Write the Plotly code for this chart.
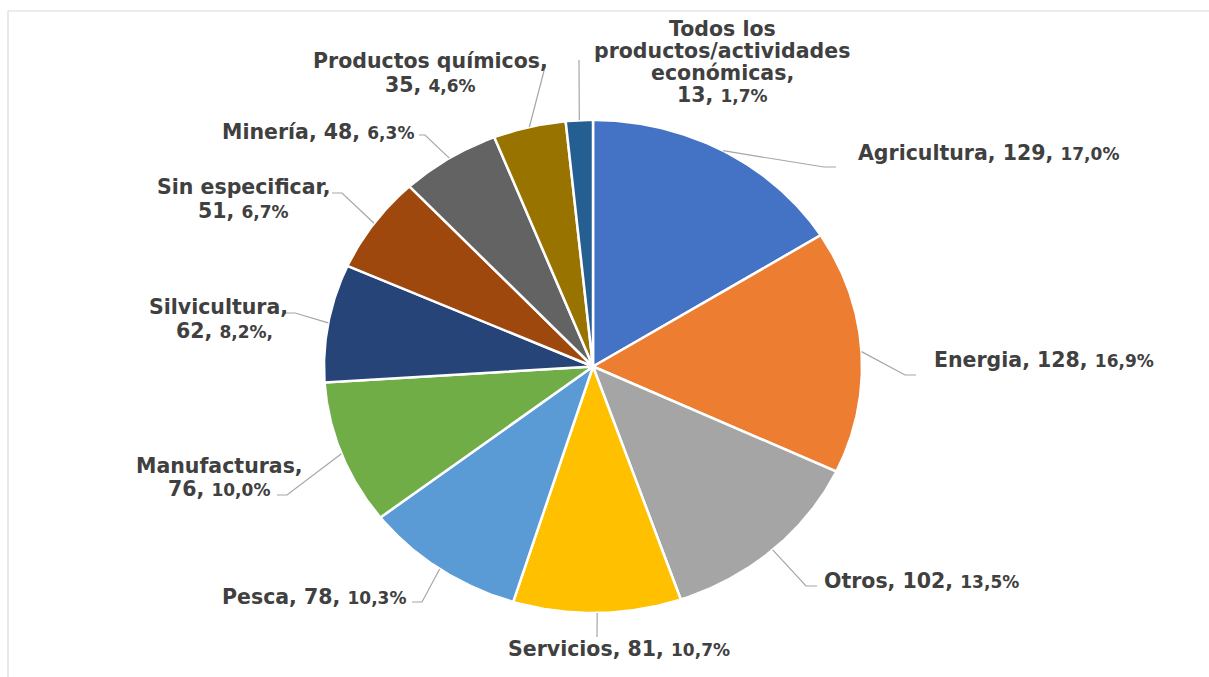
import numpy as np
import plotly.graph_objects as go

# ---------------- data ----------------
categories = ["Agricultura", "Energia", "Otros", "Servicios", "Pesca", "Manufacturas",
              "Silvicultura", "Sin especificar", "Minería", "Productos químicos",
              "Todos los productos/actividades económicas"]
values = [129, 128, 102, 81, 78, 76, 62, 51, 48, 35, 13]
pct_labels = ["17,0%", "16,9%", "13,5%", "10,7%", "10,3%", "10,0%", "8,2%,", "6,7%",
              "6,3%", "4,6%", "1,7%"]
colors = ["#4472C4", "#ED7D31", "#A5A5A5", "#FFC000", "#5B9BD5", "#70AD47",
          "#264478", "#9E480E", "#636363", "#997300", "#255E91"]

# ---------------- layout constants ----------------
W, H = 1209, 677
CX, CY = 593, 366.5          # pie centre (px)
RX, RY = 269, 246.5          # pie radii (px)
FONT = "DejaVu Sans"
TXT = "#404040"
NAME_SIZE, PCT_SIZE = 20.5, 17

# label wrapping: word counts per name line (None = single line)
wrap = [None, None, None, None, None, [1], [1], [2], None, [2], [2, 1, 1]]
# label anchor (x, y of first line, xanchor, line gap)
label_pos = [(856, 153, "left", 0), (932, 360, "left", 0), (822, 581, "left", 0),
             (619, 649, "center", 0), (408, 597, "right", 0), (219, 466, "center", 23),
             (218, 307, "center", 24), (243, 187, "center", 24), (416, 132, "right", 0),
             (430, 61, "center", 24), (722, 29, "center", 22)]
line_dx = {6: [0, 6]}
# leader-line elbows after the slice edge point
leader = [[(824, 167), (836, 167)], [(905, 375), (916, 375)], [(806, 586), (817, 586)],
          [(597, 637)], [(422, 602), (412, 602)], [(287, 495), (277, 495)],
          [(295, 313), (285, 313)], [(342, 193), (332, 193)], [(425, 135), (419, 135)],
          [(545, 67)], [(579, 60)]]

fig = go.Figure()

total = sum(values)
cum = np.concatenate([[0], np.cumsum(values)]) / total
for i, v in enumerate(values):
    a0, a1 = cum[i] * 2 * np.pi, cum[i + 1] * 2 * np.pi
    t = np.linspace(a0, a1, max(8, int((a1 - a0) * 120)))
    xs = np.concatenate([[CX], CX + RX * np.sin(t), [CX]])
    ys = np.concatenate([[CY], CY - RY * np.cos(t), [CY]])
    fig.add_trace(go.Scatter(x=xs, y=ys, mode="lines", fill="toself",
                             fillcolor=colors[i], line=dict(color="white", width=2.5),
                             hoverinfo="text", text=f"{categories[i]}: {v}",
                             showlegend=False))

shapes = []
for i, v in enumerate(values):
    am = (cum[i] + cum[i + 1]) * np.pi
    px, py = CX + RX * np.sin(am), CY - RY * np.cos(am)
    pts = [(px, py)] + leader[i]
    path = "M " + " L ".join(f"{x:.1f},{y:.1f}" for x, y in pts)
    shapes.append(dict(type="path", path=path, xref="x", yref="y",
                       line=dict(color="#A6A6A6", width=1.2)))

# chart-area border (top and left edges visible)
shapes.append(dict(type="line", xref="x", yref="y", x0=8, y0=11, x1=W, y1=11,
                   line=dict(color="#D9D9D9", width=1.2)))
shapes.append(dict(type="line", xref="x", yref="y", x0=8, y0=11, x1=8, y1=H,
                   line=dict(color="#D9D9D9", width=1.2)))

annotations = []
for i, cat in enumerate(categories):
    pct_html = f"<span style='font-size:{PCT_SIZE}px'>{pct_labels[i]}</span>"
    val_txt = f"{values[i]}, {pct_html}"
    if wrap[i] is None:
        lines = [f"{cat}, {val_txt}"]
    else:
        words = cat.split(" ")
        lines, k = [], 0
        for n in wrap[i]:
            lines.append(" ".join(words[k:k + n]))
            k += n
        lines[-1] += ","
        lines.append(val_txt)
    x0, y0, xa, gap = label_pos[i]
    dxs = line_dx.get(i, [0] * len(lines))
    for j, ln in enumerate(lines):
        annotations.append(dict(x=x0 + dxs[j], y=y0 + j * gap, xref="x", yref="y",
                                text=f"<b>{ln}</b>", showarrow=False, xanchor=xa,
                                yanchor="middle",
                                font=dict(family=FONT, size=NAME_SIZE, color=TXT)))

fig.update_layout(
    width=W, height=H, margin=dict(l=0, r=0, t=0, b=0),
    paper_bgcolor="white", plot_bgcolor="white",
    xaxis=dict(range=[0, W], visible=False, fixedrange=True),
    yaxis=dict(range=[H, 0], visible=False, fixedrange=True),
    shapes=shapes, annotations=annotations, showlegend=False,
)

fig.write_html("out.html",
               config={"displayModeBar": False},
               post_script="document.body.style.margin='0';"
                           "document.body.style.overflow='hidden';")
